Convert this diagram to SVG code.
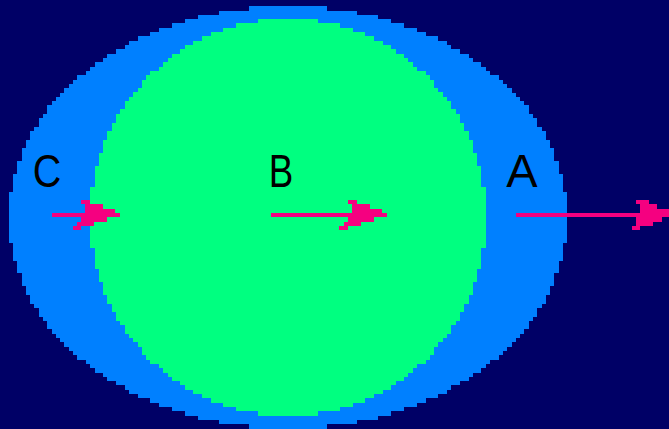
<svg xmlns="http://www.w3.org/2000/svg" width="669" height="429" viewBox="0 0 669 429">
<style>
.region{shape-rendering:crispEdges}
.blue{fill:#0080ff}
.green{fill:#00ff80}
.label{font-family:"Liberation Sans",Arial,sans-serif;font-size:47px;fill:#000;text-anchor:middle}
.arrow{fill:#f50080;shape-rendering:crispEdges}
</style>
<rect id="background" width="669" height="429" fill="#000066"/>
<g id="node-a">
<path class="region blue" d="M249 6H327V11H357V15H378V19H391V23H404V28H417V32H426V36H438V41H447V45H451V49H460V54H469V58H473V62H481V67H486V71H490V75H499V80H503V84H507V88H512V93H516V97H520V101H524V105H529V114H533V118H537V127H542V131H546V140H550V148H554V161H559V174H563V192H567V243H563V261H559V273H554V286H550V295H546V304H542V308H537V317H533V321H529V329H524V334H520V338H516V342H512V347H507V351H503V355H499V360H490V364H486V368H481V373H473V377H469V381H460V385H451V390H447V394H438V398H426V403H417V407H404V411H391V416H378V420H357V424H327V429H249V424H219V420H198V416H185V411H172V407H159V403H150V398H138V394H129V390H125V385H116V381H107V377H103V373H95V368H90V364H86V360H77V355H73V351H69V347H64V342H60V338H56V334H52V329H47V321H43V317H39V308H34V304H30V295H26V286H22V273H17V261H13V243H9V192H13V174H17V161H22V148H26V140H30V131H34V127H39V118H43V114H47V105H52V101H56V97H60V93H64V88H69V84H73V80H77V75H86V71H90V67H95V62H103V58H107V54H116V49H125V45H129V41H138V36H150V32H159V28H172V23H185V19H198V15H219V11H249Z"/>
<text class="label" x="522" y="187">A</text>
</g>
<g id="node-b">
<path class="region green" d="M258 19H318V23H340V28H353V32H365V36H374V41H383V45H391V49H396V54H404V58H408V62H413V67H417V71H426V75H430V80H434V88H438V92H443V97H447V101H451V109H456V114H460V123H464V131H469V140H473V153H477V166H481V187H486V248H481V269H477V282H473V295H469V304H464V312H460V321H456V325H451V334H447V338H443V342H438V347H434V355H430V360H426V364H417V368H413V373H408V377H404V381H396V385H391V390H383V394H374V398H365V403H353V407H340V411H318V416H258V411H236V407H223V403H211V398H202V394H193V390H185V385H180V381H172V377H168V373H163V368H159V364H150V360H146V355H142V347H138V342H133V338H129V334H125V325H120V321H116V312H112V304H107V295H103V282H99V269H95V248H90V187H95V166H99V153H103V140H107V131H112V123H116V114H120V109H125V101H129V97H133V92H138V88H142V80H146V75H150V71H159V67H163V62H168V58H172V54H180V49H185V45H193V41H202V36H211V32H223V28H236V23H258Z"/>
<text class="label" x="281" y="187" textLength="24.500" lengthAdjust="spacingAndGlyphs">B</text>
</g>
<g id="node-c">
<text class="label" x="47" y="187" textLength="28.500" lengthAdjust="spacingAndGlyphs">C</text>
</g>
<g id="connectors">
<path class="arrow" d="M52 213H85V204H81V200H90V204H103V209H115V213H120V217H107V222H94V226H81V230H73V226H77V222H81V217H52Z"/>
<path class="arrow" d="M271 213H352V204H348V200H357V204H370V209H382V213H387V217H374V222H361V226H348V230H339V226H344V222H348V217H271Z"/>
<path class="arrow" d="M516 213H640V204H636V200H649V204H657V209H669V217H662V222H653V226H640V230H632V226H636V217H516Z"/>
</g>
</svg>
